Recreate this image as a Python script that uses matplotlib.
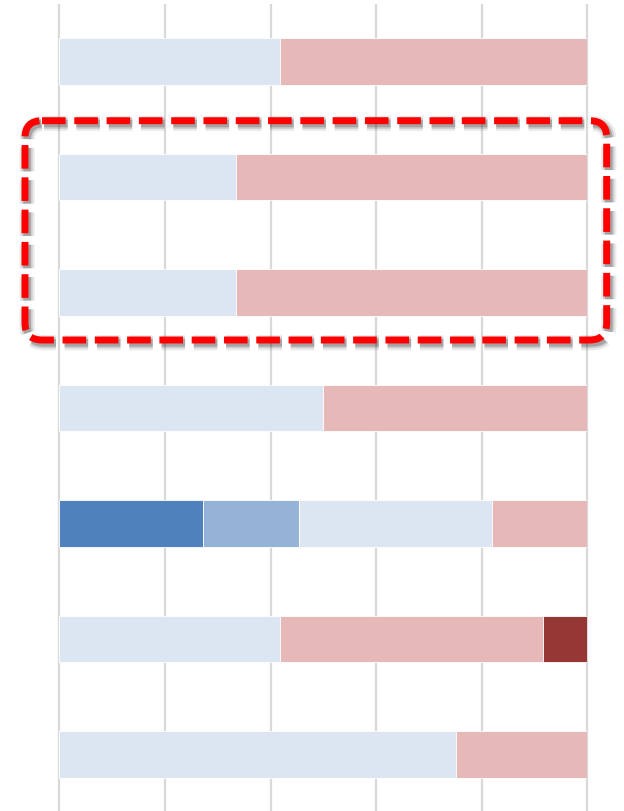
import numpy as np
import matplotlib
matplotlib.use("Agg")
import matplotlib.pyplot as plt
from matplotlib.patches import FancyBboxPatch
import matplotlib.patheffects as pe

# one row per bar, top to bottom (percent of 100)
rows = ["1", "2", "3", "4", "5", "6", "7"]
dark_blue = [0, 0, 0, 0, 27.3, 0, 0]
mid_blue = [0, 0, 0, 0, 18.1, 0, 0]
light_blue = [41.8, 33.4, 33.4, 50.0, 36.6, 41.8, 75.1]
pink = [58.2, 66.6, 66.6, 50.0, 18.0, 49.8, 24.9]
dark_red = [0, 0, 0, 0, 0, 8.4, 0]
grid_ticks = [0, 20, 40, 60, 80, 100]

series = [
    (dark_blue, "#4F81BD"),
    (mid_blue, "#95B3D7"),
    (light_blue, "#DCE6F2"),
    (pink, "#E6B9B8"),
    (dark_red, "#953735"),
]

W, H = 624, 812
fig = plt.figure(figsize=(W / 100, H / 100), dpi=100)
ax = fig.add_axes([59.3 / W, -1.25 / H, 528 / W, 808.5 / H])

y = np.arange(len(rows))
left = np.zeros(len(rows))
for vals, col in series:
    vals = np.array(vals, dtype=float)
    ax.barh(y, vals, left=left, height=0.4, color=col,
            edgecolor="white", linewidth=0.6, zorder=3)
    left += vals

ax.vlines(grid_ticks, 0, 1, transform=ax.get_xaxis_transform(),
          color="#D9D9D9", linewidth=1.6, zorder=1, clip_on=False)

ax.set_xlim(0, 100)
ax.set_ylim(len(rows) - 0.5, -0.5)
ax.axis("off")

# red dashed highlight box in pixel coords
ov = fig.add_axes([0, 0, 1, 1])
ov.set_xlim(0, W)
ov.set_ylim(H, 0)
ov.axis("off")
box = FancyBboxPatch((25, 121.7), 581.7, 219.3,
                     boxstyle="round,pad=0,rounding_size=17",
                     facecolor="none", edgecolor="#FF0000", linewidth=5.0,
                     linestyle=(0, (3.4, 1.25)), zorder=5)
box.set_path_effects([
    pe.SimpleLineShadow(offset=(1.5, -2), shadow_color="black", alpha=0.08, linewidth=11),
    pe.SimpleLineShadow(offset=(1.5, -2), shadow_color="black", alpha=0.12, linewidth=8),
    pe.SimpleLineShadow(offset=(1.5, -2), shadow_color="black", alpha=0.2, linewidth=5.5),
    pe.Normal(),
])
ov.add_patch(box)

fig.savefig("out.png", dpi=100)
